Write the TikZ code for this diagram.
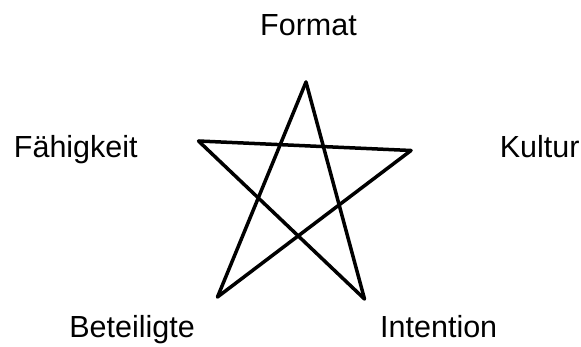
\documentclass[tikz,border=0pt]{standalone}
\usepackage{fontspec}
\setmainfont{Liberation Sans}
\begin{document}
\begin{tikzpicture}[x=1pt,y=-1pt,
  lbl/.style={anchor=base,inner sep=0pt,font=\fontsize{30.5}{36}\selectfont},
  starline/.style={line width=3.5pt,line cap=round,line join=round}]
\useasboundingbox (0,0) rectangle (581,347);
\coordinate (T) at (306,82);
\coordinate (L) at (198.5,141);
\coordinate (R) at (411,150.5);
\coordinate (BL) at (217.5,297);
\coordinate (BR) at (364.5,299);
\draw[starline] (T) -- (BL);
\draw[starline] (BL) -- (R);
\draw[starline] (R) -- (L);
\draw[starline] (L) -- (BR);
\draw[starline] (BR) -- (T);
\node[lbl] (format) at (308.5,36) {Format};
\node[lbl] (faehig) at (75.8,157.7) {Fähigkeit};
\node[lbl] (kultur) at (539.7,157.7) {Kultur};
\node[lbl] (beteil) at (132,337.7) {Beteiligte};
\node[lbl] (intent) at (438.7,337.7) {Intention};
\end{tikzpicture}
\end{document}
